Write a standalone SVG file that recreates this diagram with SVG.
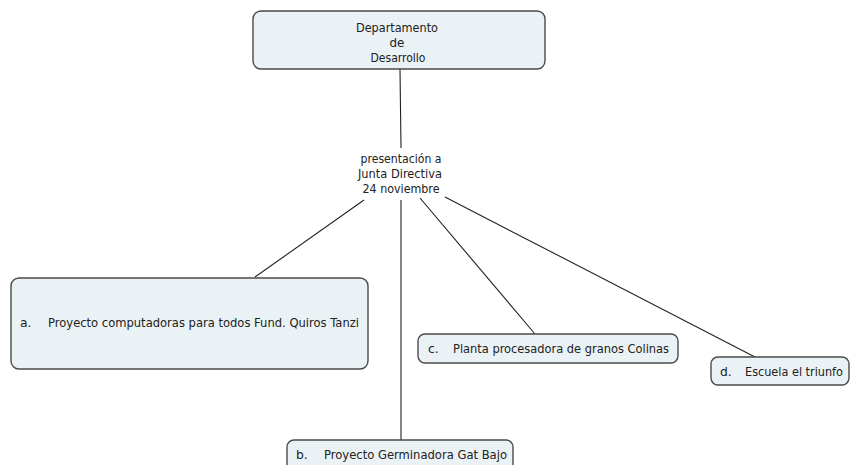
<svg xmlns="http://www.w3.org/2000/svg" width="851" height="465" viewBox="0 0 851 465">
<style>
.box{fill:#ebf2f5;stroke:#4a4a4a;stroke-width:1.4}
.t{font-family:"DejaVu Sans",Verdana,sans-serif;font-size:12.3px;fill:#222}
.m{text-anchor:middle}
.c{stroke:#222;stroke-width:1.1;fill:none}
</style>
<rect width="851" height="465" fill="#fff"/>
<g id="connectors">
<line class="c" x1="400" y1="69" x2="401" y2="148"/>
<line class="c" x1="364" y1="200" x2="255" y2="277"/>
<line class="c" x1="401" y1="200" x2="401" y2="440"/>
<line class="c" x1="420" y1="198" x2="535" y2="334"/>
<line class="c" x1="445" y1="197" x2="755" y2="357"/>
</g>
<g id="n-depto">
<rect class="box" x="253" y="11" width="292" height="58" rx="8"/>
<text class="t m" x="397" y="32" textLength="82" lengthAdjust="spacingAndGlyphs">Departamento</text>
<text class="t m" x="397" y="47" textLength="15" lengthAdjust="spacingAndGlyphs">de</text>
<text class="t m" x="398" y="62" textLength="55" lengthAdjust="spacingAndGlyphs">Desarrollo</text>
</g>
<g id="n-presentacion">
<text class="t m" x="401" y="163" textLength="81" lengthAdjust="spacingAndGlyphs">presentación a</text>
<text class="t m" x="400" y="178" textLength="84" lengthAdjust="spacingAndGlyphs">Junta Directiva</text>
<text class="t m" x="401" y="193" textLength="77" lengthAdjust="spacingAndGlyphs">24 noviembre</text>
</g>
<g id="n-a">
<rect class="box" x="11" y="278" width="357" height="91" rx="8"/>
<text class="t" x="20" y="327">a.</text>
<text class="t" x="48" y="327" textLength="311" lengthAdjust="spacingAndGlyphs">Proyecto computadoras para todos Fund. Quiros Tanzi</text>
</g>
<g id="n-c">
<rect class="box" x="418" y="334" width="260" height="29" rx="7"/>
<text class="t" x="428" y="353">c.</text>
<text class="t" x="453" y="353" textLength="216" lengthAdjust="spacingAndGlyphs">Planta procesadora de granos Colinas</text>
</g>
<g id="n-d">
<rect class="box" x="711" y="357" width="138" height="28" rx="7"/>
<text class="t" x="720" y="376">d.</text>
<text class="t" x="745" y="376" textLength="98" lengthAdjust="spacingAndGlyphs">Escuela el triunfo</text>
</g>
<g id="n-b">
<rect class="box" x="287" y="440" width="226" height="35" rx="7"/>
<text class="t" x="296" y="459">b.</text>
<text class="t" x="324" y="459" textLength="183" lengthAdjust="spacingAndGlyphs">Proyecto Germinadora Gat Bajo</text>
</g>
</svg>
